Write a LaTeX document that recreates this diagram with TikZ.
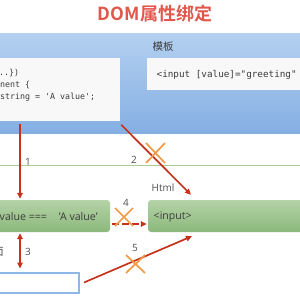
\documentclass[tikz,border=0pt]{standalone}
\usepackage{fontspec}
\setmainfont{Open Sans}
\setmonofont{DejaVu Sans Mono}
\newfontfamily\cjk{Noto Sans CJK SC}
\newfontfamily\cjkbold{Noto Sans CJK SC Bold}
\usetikzlibrary{arrows.meta}
\definecolor{titlered}{HTML}{E2574C}
\definecolor{bandtop}{HTML}{B3D0F0}
\definecolor{bandbot}{HTML}{85AFE3}
\definecolor{paper}{HTML}{F8F8F8}
\definecolor{greentop}{HTML}{B4D3A6}
\definecolor{greenbot}{HTML}{8CB87C}
\definecolor{greenline}{HTML}{A8CC9A}
\definecolor{arrowred}{HTML}{C7321A}
\definecolor{crossorange}{HTML}{F39A45}
\definecolor{textgray}{HTML}{3C3C3C}
\definecolor{viewblue}{HTML}{8DB8E6}
\begin{document}
\begin{tikzpicture}[x=1pt,y=-1pt,
  titletext/.style={font=\cjkbold\fontsize{18}{20}\selectfont, text=titlered, inner sep=0pt},
  band/.style={rectangle, draw=none, top color=bandtop, bottom color=bandbot, inner sep=0pt},
  paperbox/.style={rectangle, fill=paper, draw=none, inner sep=0pt},
  greenbox/.style={rectangle, rounded corners=3pt, top color=greentop, bottom color=greenbot, draw=none, inner sep=0pt},
  viewbox/.style={rectangle, fill=white, draw=viewblue, line width=2pt, inner sep=0pt},
  codesmall/.style={font=\ttfamily\fontsize{8.3}{10}\selectfont, text=textgray, inner sep=0pt, anchor=west},
  codebig/.style={font=\ttfamily\fontsize{9.3}{11}\selectfont, text=textgray, inner sep=0pt, anchor=west},
  boxtext/.style={font=\fontsize{10.6}{12}\selectfont, text=textgray, inner sep=0pt, anchor=west},
  lbl/.style={font=\fontsize{10}{12}\selectfont, text=textgray!90, inner sep=0pt},
  cjklbl/.style={font=\cjk\fontsize{10.5}{12}\selectfont, text=textgray, inner sep=0pt},
  redarrow/.style={draw=arrowred, line width=1.7pt, -{Triangle[length=6pt,width=5.5pt]}},
  crossmark/.style={draw=crossorange, line width=1.7pt}
]
\useasboundingbox (0,0) rectangle (300,300);
\fill[white] (0,0) rectangle (300,300);

% title
\node[titletext] (title) at (155,14) {DOM属性绑定};

% blue band
\node[band, minimum width=304pt, minimum height=100pt] (band) at (150,83) {};
\node[cjklbl] (tpl) at (163,47) {模板};

% left code box
\node[paperbox, minimum width=124pt, minimum height=63pt] (cls) at (58,89.5) {};
\node[codesmall] (c1) at (-1,73) {..\})};
\node[codesmall] (c2) at (0,85) {nent \{};
\node[codesmall] (c3) at (0,97) { string = 'A value';};

% right template box
\node[paperbox, minimum width=156pt, minimum height=32pt] (tplbox) at (225,74) {};
\node[codebig] (tpltxt) at (156.5,75) {<input [value]="greeting"};

% separator line
\draw[greenline, line width=0.8pt] (0,165) -- (300,165);

\node[lbl] (html) at (163,188) {Html};

% green boxes
\node[greenbox, minimum width=114pt, minimum height=32pt] (vl) at (53,216) {};
\node[boxtext] (vltxt) at (-0.5,217) {value ===\hspace{12pt}'A value'};
\node[greenbox, minimum width=156pt, minimum height=32pt] (inp) at (226,216) {};
\node[boxtext] (inptxt) at (153.5,216.5) {<input>};

% view box
\node[viewbox, minimum width=82pt, minimum height=20pt] (view) at (38,282.5) {};
\node[cjklbl] (viewlbl) at (-1.5,252) {面};

% arrow 1
\draw[redarrow] ([yshift=-3pt]cls.south -| 20,0) -- ([yshift=1pt]vl.north -| 20,0);
\node[lbl] (n1) at (28,161.5) {1};

% arrow 2
\draw[redarrow] ([shift={(1pt,-3.5pt)}]cls.south east) -- ([yshift=5pt]inp.north -| 191,0);
\draw[crossmark] (146,143) -- (165,163) (146,163) -- (165,143);
\node[lbl] (n2) at (134,160) {2};

% arrow 3
\draw[draw=arrowred, line width=1.7pt, {Triangle[length=6pt,width=5.5pt]}-{Triangle[length=6pt,width=5.5pt]}]
  ([yshift=-1pt]vl.south -| 20,0) -- ([yshift=3pt]view.north -| 20,0);
\node[lbl] (n3) at (28,251.5) {3};

% arrow 4
\draw[redarrow, dashed, dash pattern=on 7pt off 3pt] ([shift={(2pt,-8pt)}]vl.east) -- ([shift={(-1pt,-8pt)}]inp.west);
\draw[crossmark] (115,208) -- (133,226) (115,226) -- (133,208);
\node[lbl] (n4) at (126,203) {4};

% arrow 5
\draw[redarrow] ([shift={(4pt,0pt)}]view.east) -- ([yshift=-4pt]inp.south -| 192,0);
\draw[crossmark] (126,255) -- (145,273) (126,273) -- (145,255);
\node[lbl] (n5) at (135,248) {5};
\end{tikzpicture}
\end{document}
